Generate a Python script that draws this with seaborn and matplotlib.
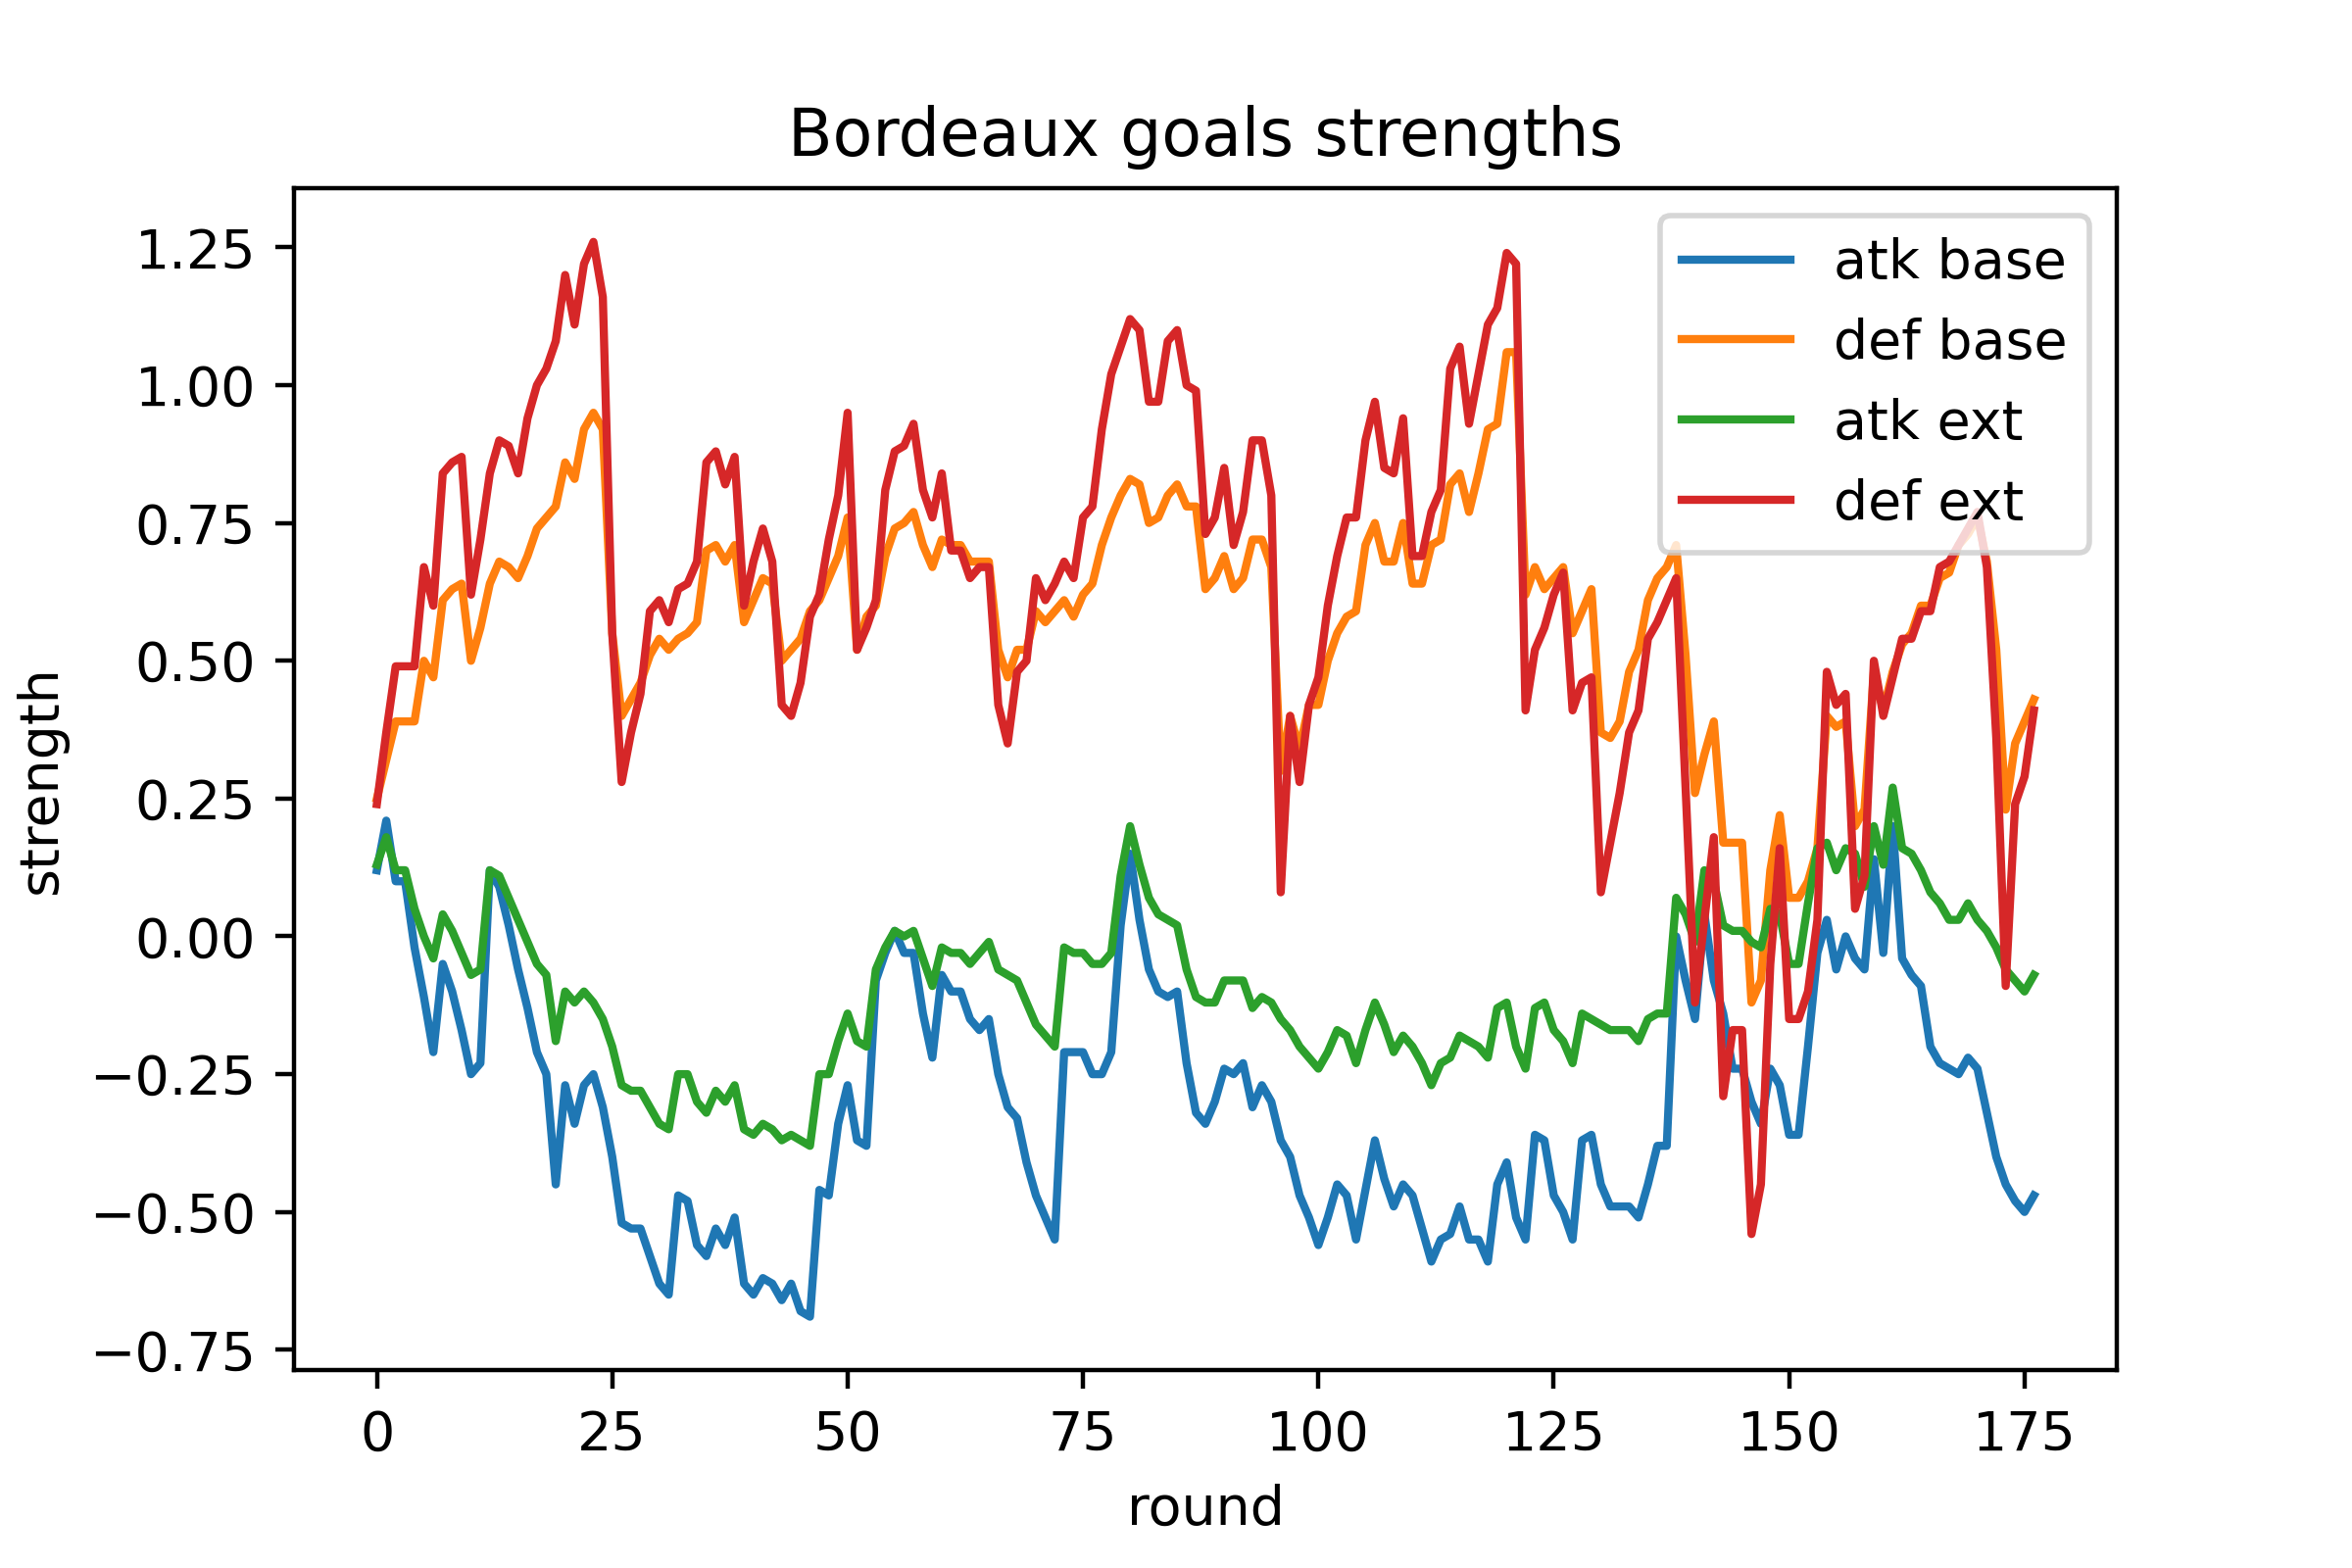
import numpy as np
import matplotlib
matplotlib.use("Agg")
import matplotlib.pyplot as plt
import seaborn as sns

# values, one per round (0..176)
atk_base = [
    0.12, 0.21, 0.10, 0.10, -0.02, -0.11, -0.21, -0.05, -0.10, -0.17,
    -0.25, -0.23, 0.12, 0.09, 0.02, -0.06, -0.13, -0.21, -0.25, -0.45,
    -0.27, -0.34, -0.27, -0.25, -0.31, -0.40, -0.52, -0.53, -0.53, -0.58,
    -0.63, -0.65, -0.47, -0.48, -0.56, -0.58, -0.53, -0.56, -0.51, -0.63,
    -0.65, -0.62, -0.63, -0.66, -0.63, -0.68, -0.69, -0.46, -0.47, -0.34,
    -0.27, -0.37, -0.38, -0.08, -0.03, 0.01, -0.03, -0.03, -0.14, -0.22,
    -0.07, -0.10, -0.10, -0.15, -0.17, -0.15, -0.25, -0.31, -0.33, -0.41,
    -0.47, -0.51, -0.55, -0.21, -0.21, -0.21, -0.25, -0.25, -0.21, 0.02,
    0.15, 0.03, -0.06, -0.10, -0.11, -0.10, -0.23, -0.32, -0.34, -0.30,
    -0.24, -0.25, -0.23, -0.31, -0.27, -0.30, -0.37, -0.40, -0.47, -0.51,
    -0.56, -0.51, -0.45, -0.47, -0.55, -0.46, -0.37, -0.44, -0.49, -0.45,
    -0.47, -0.53, -0.59, -0.55, -0.54, -0.49, -0.55, -0.55, -0.59, -0.45,
    -0.41, -0.51, -0.55, -0.36, -0.37, -0.47, -0.50, -0.55, -0.37, -0.36,
    -0.45, -0.49, -0.49, -0.49, -0.51, -0.45, -0.38, -0.38, 0.00, -0.08,
    -0.15, 0.04, -0.08, -0.14, -0.24, -0.24, -0.30, -0.34, -0.24, -0.27,
    -0.36, -0.36, -0.20, -0.03, 0.03, -0.06, 0.00, -0.04, -0.06, 0.14,
    -0.03, 0.20, -0.04, -0.07, -0.09, -0.20, -0.23, -0.24, -0.25, -0.22,
    -0.24, -0.32, -0.40, -0.45, -0.48, -0.50, -0.47,
]
def_base = [
    0.25, 0.32, 0.39, 0.39, 0.39, 0.50, 0.47, 0.61, 0.63, 0.64,
    0.50, 0.56, 0.64, 0.68, 0.67, 0.65, 0.69, 0.74, 0.76, 0.78,
    0.86, 0.83, 0.92, 0.95, 0.92, 0.55, 0.40, 0.43, 0.46, 0.51,
    0.54, 0.52, 0.54, 0.55, 0.57, 0.70, 0.71, 0.68, 0.71, 0.57,
    0.61, 0.65, 0.64, 0.50, 0.52, 0.54, 0.59, 0.61, 0.65, 0.69,
    0.76, 0.52, 0.58, 0.60, 0.69, 0.74, 0.75, 0.77, 0.71, 0.67,
    0.72, 0.71, 0.71, 0.68, 0.68, 0.68, 0.52, 0.47, 0.52, 0.52,
    0.59, 0.57, 0.59, 0.61, 0.58, 0.62, 0.64, 0.71, 0.76, 0.80,
    0.83, 0.82, 0.75, 0.76, 0.80, 0.82, 0.78, 0.78, 0.63, 0.65,
    0.69, 0.63, 0.65, 0.72, 0.72, 0.67, 0.30, 0.40, 0.34, 0.42,
    0.42, 0.50, 0.55, 0.58, 0.59, 0.71, 0.75, 0.68, 0.68, 0.75,
    0.64, 0.64, 0.71, 0.72, 0.82, 0.84, 0.77, 0.84, 0.92, 0.93,
    1.06, 1.06, 0.62, 0.67, 0.63, 0.65, 0.67, 0.55, 0.59, 0.63,
    0.37, 0.36, 0.39, 0.48, 0.52, 0.61, 0.65, 0.67, 0.71, 0.51,
    0.26, 0.33, 0.39, 0.17, 0.17, 0.17, -0.12, -0.08, 0.12, 0.22,
    0.07, 0.07, 0.10, 0.16, 0.40, 0.38, 0.39, 0.20, 0.23, 0.48,
    0.41, 0.48, 0.53, 0.55, 0.60, 0.60, 0.65, 0.66, 0.71, 0.73,
    0.76, 0.68, 0.52, 0.23, 0.35, 0.39, 0.43,
]
atk_ext = [
    0.13, 0.18, 0.12, 0.12, 0.05, 0.00, -0.04, 0.04, 0.01, -0.03,
    -0.07, -0.06, 0.12, 0.11, 0.07, 0.03, -0.01, -0.05, -0.07, -0.19,
    -0.10, -0.12, -0.10, -0.12, -0.15, -0.20, -0.27, -0.28, -0.28, -0.31,
    -0.34, -0.35, -0.25, -0.25, -0.30, -0.32, -0.28, -0.30, -0.27, -0.35,
    -0.36, -0.34, -0.35, -0.37, -0.36, -0.37, -0.38, -0.25, -0.25, -0.19,
    -0.14, -0.19, -0.20, -0.06, -0.02, 0.01, 0.00, 0.01, -0.04, -0.09,
    -0.02, -0.03, -0.03, -0.05, -0.03, -0.01, -0.06, -0.07, -0.08, -0.12,
    -0.16, -0.18, -0.20, -0.02, -0.03, -0.03, -0.05, -0.05, -0.03, 0.11,
    0.20, 0.13, 0.07, 0.04, 0.03, 0.02, -0.06, -0.11, -0.12, -0.12,
    -0.08, -0.08, -0.08, -0.13, -0.11, -0.12, -0.15, -0.17, -0.20, -0.22,
    -0.24, -0.21, -0.17, -0.18, -0.23, -0.17, -0.12, -0.16, -0.21, -0.18,
    -0.20, -0.23, -0.27, -0.23, -0.22, -0.18, -0.19, -0.20, -0.22, -0.13,
    -0.12, -0.20, -0.24, -0.13, -0.12, -0.17, -0.19, -0.23, -0.14, -0.15,
    -0.16, -0.17, -0.17, -0.17, -0.19, -0.15, -0.14, -0.14, 0.07, 0.04,
    -0.01, 0.12, 0.10, 0.02, 0.01, 0.01, -0.01, -0.02, 0.05, 0.04,
    -0.05, -0.05, 0.06, 0.16, 0.17, 0.12, 0.16, 0.15, 0.09, 0.20,
    0.13, 0.27, 0.16, 0.15, 0.12, 0.08, 0.06, 0.03, 0.03, 0.06,
    0.03, 0.01, -0.02, -0.06, -0.08, -0.10, -0.07,
]
def_ext = [
    0.24, 0.37, 0.49, 0.49, 0.49, 0.67, 0.60, 0.84, 0.86, 0.87,
    0.62, 0.72, 0.84, 0.90, 0.89, 0.84, 0.94, 1.00, 1.03, 1.08,
    1.20, 1.11, 1.22, 1.26, 1.16, 0.55, 0.28, 0.37, 0.44, 0.59,
    0.61, 0.57, 0.63, 0.64, 0.68, 0.86, 0.88, 0.82, 0.87, 0.60,
    0.68, 0.74, 0.68, 0.42, 0.40, 0.46, 0.58, 0.62, 0.72, 0.80,
    0.95, 0.52, 0.56, 0.61, 0.81, 0.88, 0.89, 0.93, 0.81, 0.76,
    0.84, 0.70, 0.70, 0.65, 0.67, 0.67, 0.42, 0.35, 0.48, 0.50,
    0.65, 0.61, 0.64, 0.68, 0.65, 0.76, 0.78, 0.92, 1.02, 1.07,
    1.12, 1.10, 0.97, 0.97, 1.08, 1.10, 1.00, 0.99, 0.73, 0.76,
    0.85, 0.71, 0.77, 0.90, 0.90, 0.80, 0.08, 0.40, 0.28, 0.42,
    0.47, 0.60, 0.69, 0.76, 0.76, 0.90, 0.97, 0.85, 0.84, 0.94,
    0.69, 0.69, 0.77, 0.81, 1.03, 1.07, 0.93, 1.02, 1.11, 1.14,
    1.24, 1.22, 0.41, 0.52, 0.56, 0.62, 0.66, 0.41, 0.46, 0.47,
    0.08, 0.17, 0.26, 0.37, 0.41, 0.54, 0.57, 0.61, 0.65, 0.27,
    -0.12, 0.03, 0.18, -0.29, -0.17, -0.17, -0.54, -0.45, -0.05, 0.16,
    -0.15, -0.15, -0.10, 0.03, 0.48, 0.42, 0.44, 0.05, 0.11, 0.50,
    0.40, 0.47, 0.54, 0.54, 0.59, 0.59, 0.67, 0.68, 0.71, 0.74,
    0.77, 0.67, 0.36, -0.09, 0.24, 0.29, 0.41,
]
rounds = np.arange(len(atk_base))

series = {
    "atk base": atk_base,
    "def base": def_base,
    "atk ext": atk_ext,
    "def ext": def_ext,
}
colors = ["tab:blue", "tab:orange", "tab:green", "tab:red"]

fig, ax = plt.subplots(figsize=(6, 4))
fig.subplots_adjust(bottom=0.126)
for (name, vals), c in zip(series.items(), colors):
    sns.lineplot(x=rounds, y=vals, ax=ax, color=c, label=name)

ax.set_title("Bordeaux goals strengths")
ax.set_xlabel("round")
ax.set_ylabel("strength")
ax.legend(loc="upper right")

plt.savefig("out.png", dpi=400)
